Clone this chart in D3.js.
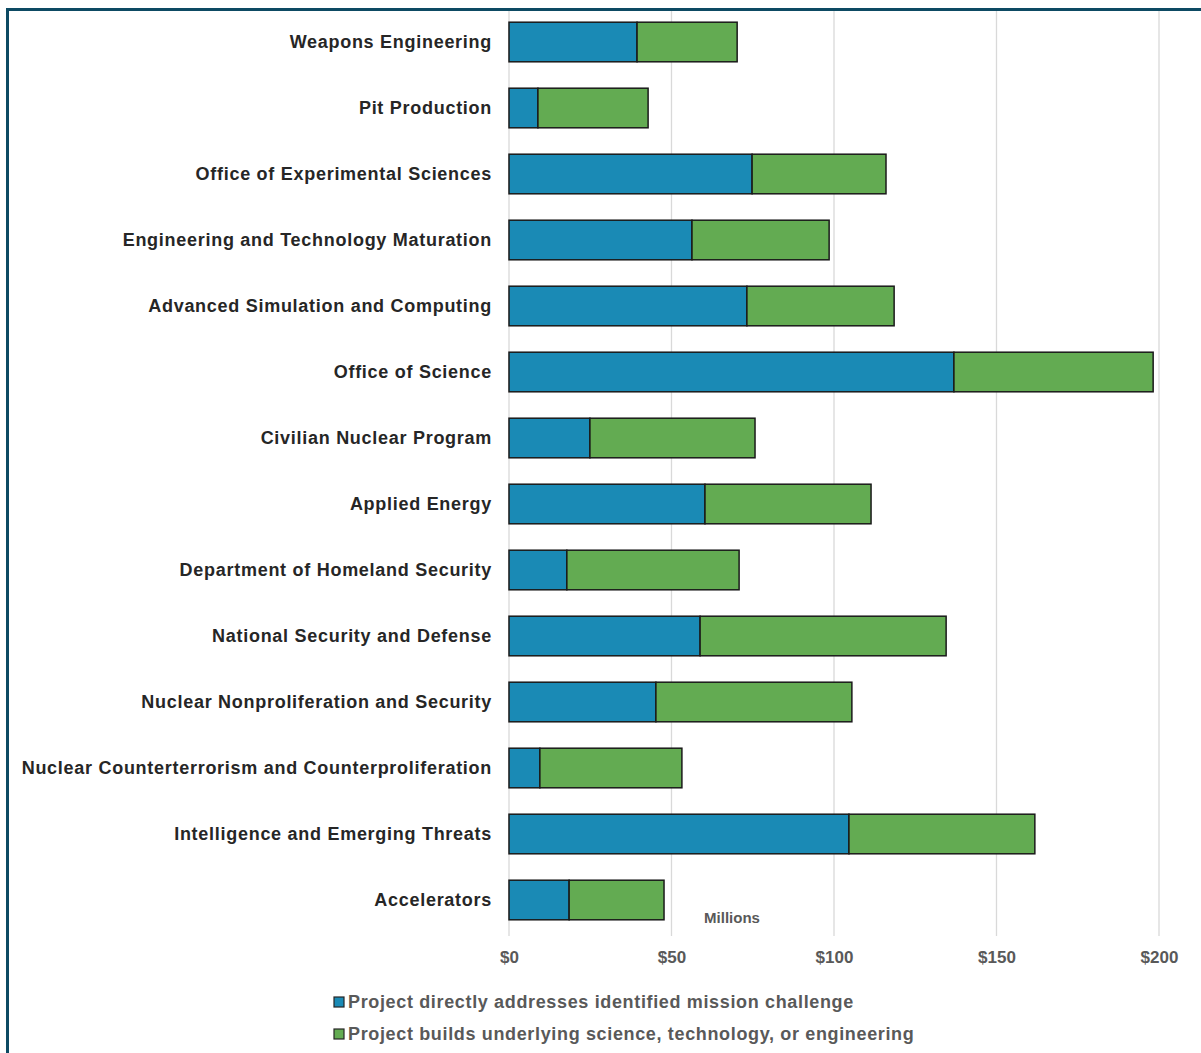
<!DOCTYPE html>
<html>
<head>
<meta charset="utf-8">
<script src="https://cdn.jsdelivr.net/npm/d3@7"></script>
<style>
  body { margin: 0; background: #fff; }
  text { font-family: "Liberation Sans", Arial, sans-serif; font-weight: bold; }
</style>
</head>
<body>
<div id="chart"></div>
<script>
// data (millions of dollars)
var categories = [
  "Weapons Engineering",
  "Pit Production",
  "Office of Experimental Sciences",
  "Engineering and Technology Maturation",
  "Advanced Simulation and Computing",
  "Office of Science",
  "Civilian Nuclear Program",
  "Applied Energy",
  "Department of Homeland Security",
  "National Security and Defense",
  "Nuclear Nonproliferation and Security",
  "Nuclear Counterterrorism and Counterproliferation",
  "Intelligence and Emerging Threats",
  "Accelerators"
];
var missionValues = [39.4, 8.9, 74.8, 56.3, 73.2, 136.9, 24.9, 60.3, 17.8, 58.8, 45.2, 9.5, 104.6, 18.5];
var scienceValues = [30.8, 33.9, 41.2, 42.2, 45.3, 61.3, 50.8, 51.1, 53.0, 75.7, 60.3, 43.7, 57.2, 29.2];
var tickValues = [0, 50, 100, 150, 200];
var seriesNames = [
  "Project directly addresses identified mission challenge",
  "Project builds underlying science, technology, or engineering"
];
var colors = ["#1a8ab5", "#63ab52"];

var W = 1201, H = 1053;
var svg = d3.select("#chart").append("svg")
  .attr("width", W)
  .attr("height", H);

// frame
svg.append("rect")
  .attr("x", 7.5).attr("y", 9.5)
  .attr("width", W + 20).attr("height", H + 20)
  .attr("fill", "none")
  .attr("stroke", "#0d4a63")
  .attr("stroke-width", 3);

var x = d3.scaleLinear().domain([0, 200]).range([509, 1159]);
var y = d3.scaleBand().domain(categories).range([9, 933]).paddingInner(0.4).paddingOuter(0.2);

// gridlines
svg.append("g")
  .selectAll("line")
  .data(tickValues)
  .enter().append("line")
    .attr("x1", function(d) { return x(d); })
    .attr("x2", function(d) { return x(d); })
    .attr("y1", 11)
    .attr("y2", 936)
    .attr("stroke", "#d9d9d9")
    .attr("stroke-width", 1.3);

// stack
var rows = categories.map(function(c, i) {
  return { cat: c, mission: missionValues[i], science: scienceValues[i] };
});
var stacked = d3.stack().keys(["mission", "science"])(rows);

svg.append("g")
  .selectAll("g")
  .data(stacked)
  .enter().append("g")
    .attr("fill", function(d, i) { return colors[i]; })
  .selectAll("rect")
  .data(function(d) { return d; })
  .enter().append("rect")
    .attr("x", function(d) { return x(d[0]); })
    .attr("y", function(d) { return y(d.data.cat); })
    .attr("width", function(d) { return x(d[1]) - x(d[0]); })
    .attr("height", y.bandwidth())
    .attr("stroke", "#1a1a1a")
    .attr("stroke-width", 1.5);

// category labels
svg.append("g")
  .selectAll("text")
  .data(categories)
  .enter().append("text")
    .attr("x", 492)
    .attr("y", function(d) { return y(d) + y.bandwidth() / 2; })
    .attr("dy", "0.35em")
    .attr("text-anchor", "end")
    .attr("font-size", 18)
    .attr("letter-spacing", 0.72)
    .attr("fill", "#262626")
    .text(function(d) { return d; });

// x axis labels
var xAxis = svg.append("g")
  .attr("transform", "translate(0,948)")
  .call(d3.axisBottom(x).tickValues(tickValues).tickSize(0).tickFormat(function(d) { return "$" + d; }));
xAxis.select(".domain").remove();
xAxis.selectAll("text")
  .attr("font-size", 17)
  .attr("fill", "#595959")
  .attr("font-family", "Liberation Sans, Arial, sans-serif")
  .attr("font-weight", "bold");

svg.append("text")
  .attr("x", 732)
  .attr("y", 923)
  .attr("text-anchor", "middle")
  .attr("font-size", 15)
  .attr("fill", "#595959")
  .text("Millions");

// legend
var legend = svg.append("g")
  .selectAll("g")
  .data(seriesNames)
  .enter().append("g")
    .attr("transform", function(d, i) { return "translate(334," + (1002 + i * 32) + ")"; });
legend.append("rect")
  .attr("x", 0).attr("y", -5)
  .attr("width", 10).attr("height", 10)
  .attr("fill", function(d, i) { return colors[i]; })
  .attr("stroke", "#262626")
  .attr("stroke-width", 1.2);
legend.append("text")
  .attr("x", 14)
  .attr("dy", "0.35em")
  .attr("font-size", 18)
  .attr("letter-spacing", 0.65)
  .attr("fill", "#595959")
  .text(function(d) { return d; });
</script>
</body>
</html>
